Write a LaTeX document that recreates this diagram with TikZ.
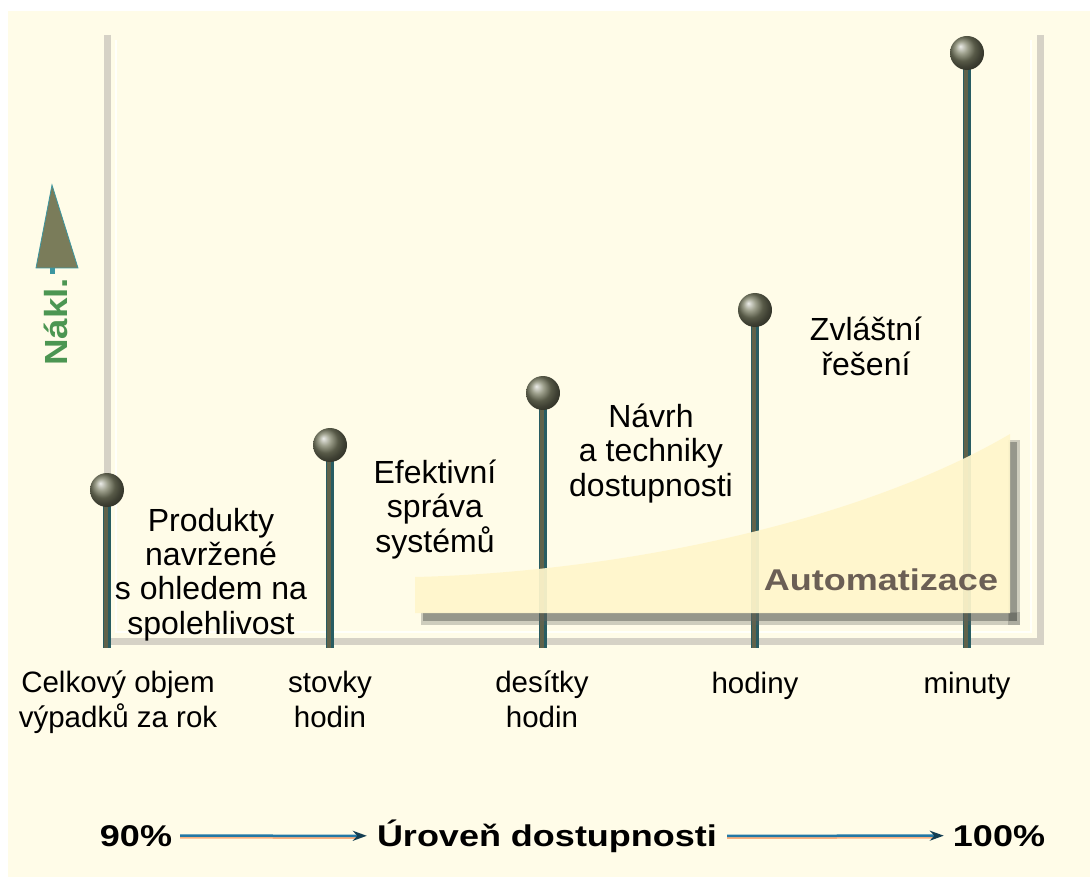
\documentclass[tikz,border=0pt]{standalone}
\usepackage{fontspec}
\setmainfont{Liberation Sans}
\usetikzlibrary{arrows.meta}
\definecolor{bg}{RGB}{255,252,232}
\definecolor{axisgrey}{RGB}{214,210,198}
\definecolor{axislight}{RGB}{255,255,250}
\definecolor{stemolive}{RGB}{96,98,74}
\definecolor{stemteal}{RGB}{40,92,98}
\definecolor{ballcol}{RGB}{125,128,102}
\definecolor{autoyellow}{RGB}{255,246,204}
\definecolor{shadowgrey}{RGB}{95,98,90}
\definecolor{autotext}{RGB}{107,95,85}
\definecolor{naklgreen}{RGB}{76,150,82}
\definecolor{arrowblue}{RGB}{35,120,165}
\definecolor{arroworange}{RGB}{250,175,125}
\definecolor{tipdark}{RGB}{20,62,82}
\definecolor{conegrey}{RGB}{122,124,90}
\definecolor{coneedge}{RGB}{60,150,160}
\begin{document}
\begin{tikzpicture}[x=1pt,y=-1pt,
  desc/.style={font=\fontsize{32}{34.3}\selectfont, align=center, anchor=base, inner sep=0pt},
  lbl/.style={font=\fontsize{29.5}{34.3}\selectfont, align=center, anchor=base, inner sep=0pt},
  boldlbl/.style={font=\fontsize{30}{34}\selectfont\bfseries, anchor=base, inner sep=0pt},
  pinball/.style={circle, minimum size=34pt, inner sep=0pt, shading=ball, ball color=ballcol},
  axisline/.style={line width=7pt, axisgrey},
  axishl/.style={line width=2pt, axislight},
  stemline/.style={line width=8pt, stemteal},
  steminner/.style={line width=4.5pt, stemolive},
  levelarrow/.style={line width=2.5pt, arrowblue, -{Stealth[length=14pt,width=10pt,color=tipdark]}},
  levelshadow/.style={line width=2pt, arroworange}
]
\useasboundingbox (0,0) rectangle (1090,877);
\fill[white] (0,0) rectangle (1090,877);
\fill[bg] (8,11) rectangle (1090,877);

% axes
\coordinate (axtop) at (107,35);
\coordinate (axorig) at (107,641);
\coordinate (axright) at (1040,641);
\coordinate (axrtop) at (1040,35);
\draw[axisline] (axtop) -- (axorig) -- (axright) -- (axrtop);
\coordinate (hlA) at (116,40);
\coordinate (hlB) at (116,632);
\coordinate (hlC) at (1031,632);
\coordinate (hlD) at (1031,40);
\draw[axishl] (hlA) -- (hlB) -- (hlC) -- (hlD);

% cost arrow and label
\coordinate (conetip) at (52,185);
\coordinate (coneR) at (78,268);
\coordinate (coneL) at (36,268);
\coordinate (conebase) at (52,266);
\coordinate (conestem) at (52,274);
\draw[line width=5pt, coneedge] (conebase) -- (conestem);
\filldraw[fill=conegrey, draw=coneedge, line width=0.8pt] (conetip) -- (coneR) -- (coneL) -- cycle;
\node[rotate=90, text=naklgreen, font=\fontsize{32}{34}\selectfont\bfseries, inner sep=0pt] (nakl) at (56,322) {\scalebox{1.15}[1]{Nákl.}};

% pins
\foreach \i/\x/\y in {1/107/490, 2/330/445, 3/543/393, 4/755/310, 5/967/53} {
  \coordinate (foot\i) at (\x,648);
  \coordinate (top\i) at (\x,\y);
  \draw[stemline] (top\i) -- (foot\i);
  \draw[steminner] ([xshift=-1pt]top\i) -- ([xshift=-1pt]foot\i);
  \node[pinball] (ball\i) at (top\i) {};
}

% automation area
\coordinate (auA) at (415,613);
\coordinate (auB) at (415,577);
\coordinate (auC) at (1010,434);
\coordinate (auD) at (1010,613);
\fill[shadowgrey, opacity=0.3] (421,612) rectangle (1020,625);
\fill[shadowgrey, opacity=0.3] (1008,440) rectangle (1020,625);
\fill[shadowgrey, opacity=0.5] (423,613) rectangle (1017,621);
\fill[shadowgrey, opacity=0.5] (1009,442) rectangle (1017,621);
\fill[autoyellow, opacity=0.93]
  (auA) -- (auB) .. controls (620,572) and (860,522) .. (auC) -- (auD) -- cycle;
\node[boldlbl, text=autotext] (auto) at (881,590) {\scalebox{1.2}[1]{Automatizace}};

% descriptions (anchor at baseline of last line)
\node[desc] (prod) at (211,634) {Produkty\\navržené\\s ohledem na\\spolehlivost};
\node[desc] (efek) at (435,552) {Efektivní\\správa\\systémů};
\node[desc] (navrh) at (651,496) {Návrh\\a techniky\\dostupnosti};
\node[desc] (zvl) at (866,375) {Zvláštní\\řešení};

% axis labels
\node[lbl] (celk) at (118,727) {Celkový objem\\výpadků za rok};
\node[lbl] (stov) at (330,727) {stovky\\hodin};
\node[lbl] (des) at (542,727) {desítky\\hodin};
\node[lbl] (hod) at (755,693) {hodiny};
\node[lbl] (min) at (967,693) {minuty};

% availability level
\node[boldlbl] (p90) at (136,846) {\scalebox{1.2}[1]{90\%}};
\node[boldlbl] (lev) at (547,846) {\scalebox{1.2}[1]{Úroveň dostupnosti}};
\node[boldlbl] (p100) at (999,846) {\scalebox{1.2}[1]{100\%}};
\draw[levelshadow, shorten <=8pt, shorten >=20pt] ([yshift=-2pt]p90.east) -- ([yshift=-2pt]lev.west);
\draw[levelshadow, shorten <=10pt, shorten >=20pt] ([yshift=-2pt]lev.east) -- ([yshift=-2pt]p100.west);
\draw[levelarrow, shorten <=8pt, shorten >=10pt] (p90.east) -- (lev.west);
\draw[levelarrow, shorten <=10pt, shorten >=9pt] (lev.east) -- (p100.west);
\end{tikzpicture}
\end{document}
